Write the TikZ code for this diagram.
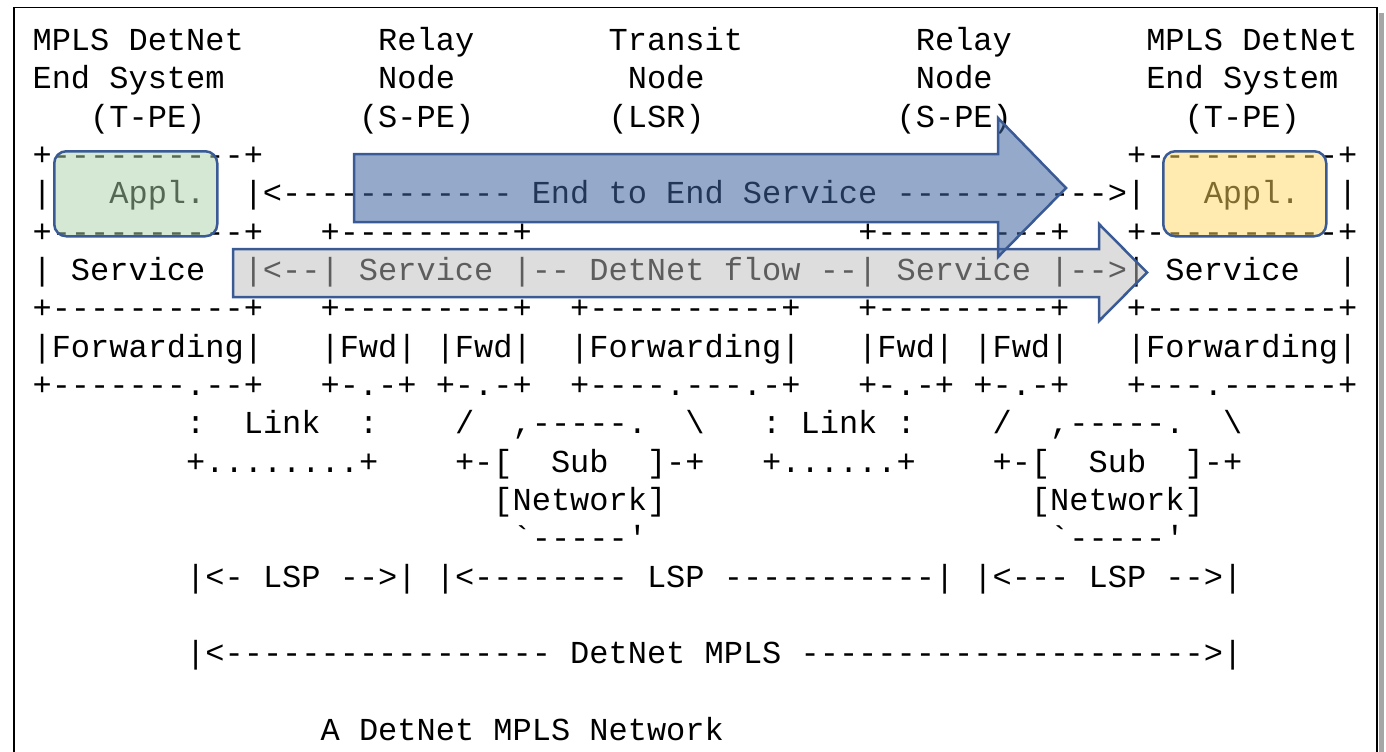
\documentclass[tikz,border=0pt]{standalone}
\usepackage{fontspec}
\setmonofont{Liberation Mono}
\newcommand\gap[1]{\hskip\dimexpr0.6em*#1\relax}
\definecolor{bord}{RGB}{58,90,150}
\definecolor{gfill}{RGB}{171,209,169}
\definecolor{yfill}{RGB}{255,215,95}
\definecolor{bfill}{RGB}{62,100,160}
\definecolor{afill}{RGB}{187,187,187}
\begin{document}
\begin{tikzpicture}[x=0.5pt,y=-0.5pt,
  txt/.style={anchor=base west, inner sep=0pt, outer sep=0pt,
    font=\ttfamily\fontsize{16pt}{19pt}\selectfont\frenchspacing},
  overlay/.style={draw=bord, line width=1.25pt},
  appbox/.style={overlay, rounded corners=6pt, fill opacity=0.5, draw opacity=1,
    minimum width=81.5pt, minimum height=42.5pt, inner sep=0pt, anchor=north west}]
\useasboundingbox (0,0) rectangle (1386,751);
% frame and shadow
\fill[gray!70] (1378.5,13) rectangle (1384,760);
\draw[line width=0.7pt] (14,760) -- (14,7.5) -- (1377,7.5) -- (1377,760);
% ASCII text
\node[txt] (r0) at (32.6,50.5) {MPLS DetNet\gap{7}Relay\gap{7}Transit\gap{9}Relay\gap{7}MPLS DetNet};
\node[txt] (r1) at (32.6,88.8) {End System\gap{8}Node\gap{9}Node\gap{11}Node\gap{8}End System};
\node[txt] (r2) at (32.6,127.2) {\gap{3}(T-PE)\gap{8}(S-PE)\gap{7}(LSR)\gap{10}(S-PE)\gap{9}(T-PE)};
\node[txt] (r3) at (32.6,165.5) {+----------+\gap{45}+----------+};
\node[txt] (r4) at (32.6,203.8) {|\gap{3}Appl.\gap{2}|<------------ End to End Service ----------->|\gap{3}Appl.\gap{2}|};
\node[txt] (r5) at (32.6,242.2) {+----------+\gap{3}+---------+\gap{17}+---------+\gap{3}+----------+};
\node[txt] (r6) at (32.6,280.5) {| Service\gap{2}|<--| Service |-- DetNet flow --| Service |-->| Service\gap{2}|};
\node[txt] (r7) at (32.6,318.8) {+----------+\gap{3}+---------+\gap{2}+----------+\gap{3}+---------+\gap{3}+----------+};
\node[txt] (r8) at (32.6,357.1) {|Forwarding|\gap{3}|Fwd| |Fwd|\gap{2}|Forwarding|\gap{3}|Fwd| |Fwd|\gap{3}|Forwarding|};
\node[txt] (r9) at (32.6,395.5) {+-------.--+\gap{3}+-.-+ +-.-+\gap{2}+----.---.-+\gap{3}+-.-+ +-.-+\gap{3}+---.------+};
\node[txt] (r10) at (32.6,433.8) {\gap{8}:\gap{2}Link\gap{2}:\gap{4}/\gap{2},-----.\gap{2}\textbackslash\gap{3}: Link :\gap{4}/\gap{2},-----.\gap{2}\textbackslash};
\node[txt] (r11) at (32.6,472.1) {\gap{8}+........+\gap{4}+-[\gap{2}Sub\gap{2}]-+\gap{3}+......+\gap{4}+-[\gap{2}Sub\gap{2}]-+};
\node[txt] (r12) at (32.6,510.5) {\gap{24}[Network]\gap{19}[Network]};
\node[txt] (r13) at (32.6,548.8) {\gap{25}`-----'\gap{21}`-----'};
\node[txt] (r14) at (32.6,587.1) {\gap{8}|<- LSP -->| |<-------- LSP -----------| |<--- LSP -->|};
\node[txt] (r16) at (32.6,663.8) {\gap{8}|<----------------- DetNet MPLS --------------------->|};
\node[txt] (r18) at (32.6,740.5) {\gap{15}A DetNet MPLS Network};
% overlays
\node[appbox, fill=gfill] (applL) at (53,150) {};
\node[appbox, fill=yfill] (applR) at (1162,150) {};
\draw[overlay, fill=afill, fill opacity=0.5] (233,249) -- (1099,249) -- (1099,224) -- (1147,272.5)
  -- (1099,321) -- (1099,297) -- (233,297) -- cycle;
\draw[overlay, fill=bfill, fill opacity=0.55] (354,154) -- (998,154) -- (998,118) -- (1066,188)
  -- (998,257) -- (998,222) -- (354,222) -- cycle;
\end{tikzpicture}
\end{document}
